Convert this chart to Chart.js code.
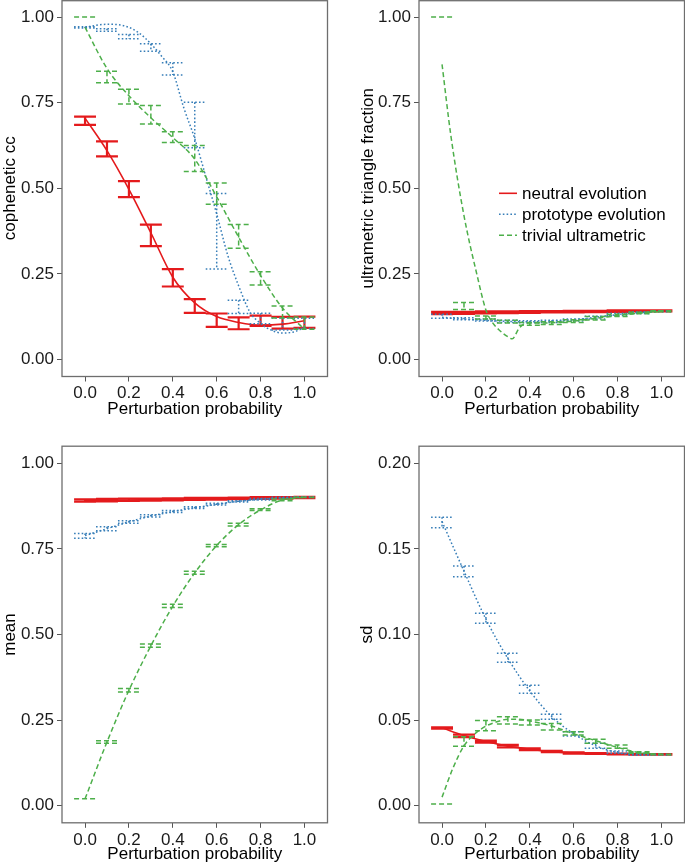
<!DOCTYPE html>
<html><head><meta charset="utf-8">
<script src="https://cdn.jsdelivr.net/npm/chart.js@4"></script>
<style>
html,body{margin:0;padding:0;background:#fff;width:685px;height:865px;overflow:hidden}
.p{position:absolute}
</style></head><body>
<div class="p" style="left:0;top:0;width:340px;height:420px"><canvas id="c1"></canvas></div>
<div class="p" style="left:340px;top:0;width:345px;height:420px"><canvas id="c2"></canvas></div>
<div class="p" style="left:0;top:420px;width:340px;height:445px"><canvas id="c3"></canvas></div>
<div class="p" style="left:340px;top:420px;width:345px;height:445px"><canvas id="c4"></canvas></div>
<script>
// ---------- shared axes ----------
const xBars = [0,0.1,0.2,0.3,0.4,0.5,0.6,0.7,0.8,0.9,1.0];
const xFit10 = [0,0.1,0.2,0.3,0.4,0.5,0.6,0.7,0.8,0.9,1.0];
const xFit05 = [0,0.05,0.1,0.15,0.2,0.25,0.3,0.35,0.4,0.45,0.5,0.55,0.6,0.65,0.7,0.75,0.8,0.85,0.9,0.95,1.0];
const xTicks = [0,0.2,0.4,0.6,0.8,1.0];
const yTicksUnit = [0,0.25,0.5,0.75,1.0];
const yTicksSd = [0,0.05,0.10,0.15,0.20];
const seriesNames = ["neutral evolution","prototype evolution","trivial ultrametric"];
const xTitle = "Perturbation probability";

// ---------- panel 1: cophenetic cc ----------
const cophNeutralLo = [0.685,0.593,0.474,0.331,0.213,0.136,0.095,0.088,0.098,0.090,0.092];
const cophNeutralHi = [0.709,0.637,0.521,0.394,0.264,0.176,0.134,0.123,0.128,0.124,0.125];
const cophNeutralFit = [0.705,0.610,0.497,0.370,0.240,0.165,0.125,0.108,0.100,0.103,0.113];
const cophProtoLo = [0.968,0.959,0.937,0.900,0.831,0.618,0.264,0.134,0.104,0.086,0.090];
const cophProtoHi = [0.972,0.966,0.949,0.922,0.867,0.751,0.485,0.173,0.135,0.121,0.120];
const cophProtoFit = [0.970,0.976,0.979,0.978,0.970,0.952,0.922,0.885,0.840,0.735,0.645,0.535,0.425,0.305,0.215,0.140,0.105,0.085,0.077,0.080,0.093];
const cophTrivLo = [1.000,0.808,0.746,0.688,0.634,0.549,0.453,0.325,0.217,0.121,0.088];
const cophTrivHi = [1.000,0.842,0.789,0.742,0.665,0.625,0.515,0.394,0.256,0.156,0.124];
const cophTrivFit = [0.970,0.850,0.770,0.706,0.648,0.585,0.475,0.357,0.245,0.150,0.088];

// ---------- panel 2: ultrametric triangle fraction ----------
const utfNeutralLo = [0.132,0.133,0.134,0.135,0.136,0.137,0.137,0.138,0.139,0.140,0.140];
const utfNeutralHi = [0.139,0.139,0.140,0.140,0.141,0.141,0.142,0.142,0.143,0.143,0.143];
const utfNeutralFit = [0.136,0.136,0.137,0.138,0.138,0.139,0.140,0.140,0.141,0.141,0.142];
const utfProtoLo = [0.120,0.116,0.112,0.108,0.107,0.108,0.112,0.118,0.128,0.134,0.139];
const utfProtoHi = [0.132,0.122,0.118,0.114,0.113,0.114,0.118,0.126,0.135,0.139,0.142];
const utfProtoFit = [0.123,0.118,0.114,0.111,0.110,0.112,0.116,0.123,0.131,0.137,0.141];
const utfTrivLo = [1.000,0.146,0.118,0.106,0.100,0.102,0.108,0.115,0.125,0.133,0.139];
const utfTrivHi = [1.000,0.166,0.127,0.114,0.108,0.110,0.116,0.125,0.132,0.138,0.142];
const utfTrivFitX = [0,0.04,0.1,0.16,0.2,0.225,0.26,0.3,0.32,0.35,0.38,0.4,0.5,0.6,0.7,0.8,0.9,1.0];
const utfTrivFitY = [0.862,0.655,0.420,0.245,0.144,0.112,0.086,0.066,0.060,0.090,0.105,0.106,0.107,0.112,0.120,0.128,0.135,0.140];

// ---------- panel 3: mean ----------
const meanNeutralLo = [0.888,0.889,0.890,0.891,0.892,0.893,0.894,0.895,0.896,0.897,0.898];
const meanNeutralHi = [0.895,0.896,0.897,0.897,0.898,0.899,0.899,0.900,0.901,0.901,0.902];
const meanNeutralFit = [0.891,0.892,0.893,0.894,0.895,0.896,0.897,0.898,0.899,0.900,0.900];
const meanProtoLo = [0.781,0.803,0.825,0.843,0.856,0.868,0.878,0.887,0.893,0.898,0.900];
const meanProtoHi = [0.795,0.815,0.832,0.850,0.862,0.873,0.883,0.891,0.897,0.901,0.902];
const meanProtoFit = [0.789,0.809,0.829,0.846,0.859,0.870,0.880,0.889,0.895,0.899,0.901];
const meanTrivLo = [0.020,0.182,0.332,0.463,0.579,0.676,0.756,0.817,0.862,0.891,0.900];
const meanTrivHi = [0.020,0.190,0.342,0.472,0.588,0.685,0.763,0.825,0.867,0.896,0.901];
const meanTrivFit = [0.020,0.186,0.337,0.467,0.583,0.680,0.760,0.821,0.864,0.893,0.901];

// ---------- panel 4: sd ----------
const sdNeutralLo = [0.0450,0.0400,0.0368,0.0341,0.0324,0.0312,0.0304,0.0302,0.0300,0.0298,0.0298];
const sdNeutralHi = [0.0458,0.0415,0.0380,0.0355,0.0335,0.0320,0.0312,0.0307,0.0304,0.0302,0.0301];
const sdNeutralFit = [0.0455,0.0410,0.0375,0.0348,0.0330,0.0316,0.0308,0.0304,0.0302,0.0300,0.0300];
const sdProtoLo = [0.1624,0.1338,0.1065,0.0838,0.0657,0.0505,0.0407,0.0335,0.0306,0.0296,0.0296];
const sdProtoHi = [0.1685,0.1400,0.1124,0.0890,0.0703,0.0534,0.0432,0.0364,0.0320,0.0306,0.0300];
const sdProtoFit = [0.166,0.137,0.109,0.086,0.067,0.052,0.042,0.035,0.031,0.0297,0.030];
const sdTrivLo = [0.001,0.0347,0.0438,0.0477,0.0471,0.0442,0.0413,0.0364,0.0335,0.0306,0.0298];
const sdTrivHi = [0.001,0.0403,0.0497,0.0520,0.0500,0.0480,0.0432,0.0388,0.0355,0.0315,0.0300];
const sdTrivFitX = [0,0.05,0.1,0.15,0.2,0.25,0.3,0.35,0.4,0.5,0.6,0.7,0.8,0.9,1.0];
const sdTrivFitY = [0.005,0.022,0.035,0.042,0.0465,0.049,0.0505,0.0505,0.0495,0.0465,0.042,0.038,0.034,0.031,0.030];

// ---------- styles ----------
const FONT = "'Liberation Sans', Arial, Helvetica, sans-serif";
const styles = [
  {color:'#E41A1C', dash:[], barW:2.2, fitW:1.6},
  {color:'#377EB8', dash:[1.6,2.2], barW:1.5, fitW:1.5},
  {color:'#4DAF4A', dash:[5,3], barW:1.5, fitW:1.5}
];
const HALF = 0.05;

function errorBarPoints(xs, lo, hi) {
  const pts = [];
  xs.forEach((x, i) => {
    pts.push({x: x - HALF, y: hi[i]}, {x: x + HALF, y: hi[i]}, {x: x, y: null});
    pts.push({x: x, y: hi[i]}, {x: x, y: lo[i]}, {x: x, y: null});
    pts.push({x: x - HALF, y: lo[i]}, {x: x + HALF, y: lo[i]}, {x: x, y: null});
  });
  return pts;
}
function fitPoints(xs, ys) { return xs.map((x, i) => ({x: x, y: ys[i]})); }

function buildDatasets(series) {
  const ds = [];
  series.forEach((s, k) => {
    const st = styles[k];
    ds.push({label: seriesNames[k] + ' bars', data: errorBarPoints(xBars, s.lo, s.hi),
      borderColor: st.color, borderDash: st.dash, borderWidth: st.barW, pointRadius: 0,
      spanGaps: false, tension: 0, order: 10 - k, fill: false});
    ds.push({label: seriesNames[k], data: fitPoints(s.fitX, s.fitY),
      borderColor: st.color, borderDash: st.dash, borderWidth: st.fitW, pointRadius: 0,
      cubicInterpolationMode: 'monotone', order: 10 - k, fill: false});
  });
  return ds;
}

const borderPlugin = {
  id: 'panelBorder',
  afterDatasetsDraw(chart) {
    const a = chart.chartArea, ctx = chart.ctx;
    ctx.save();
    ctx.strokeStyle = '#6e6e6e';
    ctx.lineWidth = 1.3;
    ctx.strokeRect(a.left, Math.max(a.top, 0.7), a.right - a.left, a.bottom - Math.max(a.top, 0.7));
    ctx.restore();
  }
};

const legendPlugin = {
  id: 'insetLegend',
  afterDraw(chart, args, opts) {
    if (!opts || !opts.show) return;
    const ctx = chart.ctx;
    ctx.save();
    ctx.font = '17px ' + FONT;
    ctx.textBaseline = 'middle';
    ctx.fillStyle = '#000';
    seriesNames.forEach((name, k) => {
      const y = opts.y0 + k * opts.dy;
      const st = styles[k];
      ctx.beginPath();
      ctx.setLineDash(st.dash);
      ctx.strokeStyle = st.color;
      ctx.lineWidth = 1.6;
      ctx.moveTo(opts.x0, y);
      ctx.lineTo(opts.x0 + opts.len, y);
      ctx.stroke();
      ctx.setLineDash([]);
      ctx.fillText(name, opts.x0 + opts.len + opts.gap, y + 1);
    });
    ctx.restore();
  }
};

function makePanel(id, geo, series, yMin, yMax, yTicks, yDigits, yTitle, legend) {
  const canvas = document.getElementById(id);
  return new Chart(canvas, {
    type: 'line',
    data: {datasets: buildDatasets(series)},
    plugins: [borderPlugin, legendPlugin],
    options: {
      responsive: true, maintainAspectRatio: false, animation: false, events: [],
      devicePixelRatio: 1,
      layout: {padding: {left: geo.padL, right: geo.w - geo.right, top: geo.top, bottom: 0}},
      plugins: {legend: {display: false}, tooltip: {enabled: false},
        insetLegend: legend || {show: false}},
      scales: {
        x: {
          type: 'linear', min: -0.105, max: 1.105,
          afterBuildTicks: s => { s.ticks = xTicks.map(v => ({value: v})); },
          afterFit: s => { s.height = geo.h - geo.bottom; s.paddingLeft = 0; s.paddingRight = 0; },
          ticks: {callback: v => Number(v).toFixed(1), color: '#1a1a1a', padding: 2,
            font: {size: 17, family: FONT}, maxRotation: 0, autoSkip: false},
          grid: {drawOnChartArea: false, drawTicks: true, tickLength: 5, color: '#555', lineWidth: 1},
          border: {display: false},
          title: {display: true, text: xTitle, color: '#000', padding: 0,
            font: {size: 17, family: FONT}}
        },
        y: {
          type: 'linear', min: yMin, max: yMax,
          afterBuildTicks: s => { s.ticks = yTicks.map(v => ({value: v})); },
          afterFit: s => { s.width = geo.left - geo.padL; s.paddingTop = 0; s.paddingBottom = 0; },
          ticks: {callback: v => Number(v).toFixed(yDigits), color: '#1a1a1a', padding: 3,
            font: {size: 17, family: FONT}, autoSkip: false},
          grid: {drawOnChartArea: false, drawTicks: true, tickLength: 5, color: '#555', lineWidth: 1},
          border: {display: false},
          title: {display: true, text: yTitle, color: '#000', padding: 0,
            font: {size: 17, family: FONT}}
        }
      }
    }
  });
}

const geo1 = {w: 340, h: 420, padL: 0, left: 62, right: 327.5, top: 0, bottom: 376.5};
const geo2 = {w: 345, h: 420, padL: 18, left: 79, right: 344.5, top: 0, bottom: 376.5};
const geo3 = {w: 340, h: 445, padL: 0, left: 62, right: 327.5, top: 26.2, bottom: 402.8};
const geo4 = {w: 345, h: 445, padL: 17, left: 79, right: 344.5, top: 26.2, bottom: 402.8};

makePanel('c1', geo1, [
  {lo: cophNeutralLo, hi: cophNeutralHi, fitX: xFit10, fitY: cophNeutralFit},
  {lo: cophProtoLo, hi: cophProtoHi, fitX: xFit05, fitY: cophProtoFit},
  {lo: cophTrivLo, hi: cophTrivHi, fitX: xFit10, fitY: cophTrivFit}
], -0.05, 1.05, yTicksUnit, 2, 'cophenetic cc');

makePanel('c2', geo2, [
  {lo: utfNeutralLo, hi: utfNeutralHi, fitX: xFit10, fitY: utfNeutralFit},
  {lo: utfProtoLo, hi: utfProtoHi, fitX: xFit10, fitY: utfProtoFit},
  {lo: utfTrivLo, hi: utfTrivHi, fitX: utfTrivFitX, fitY: utfTrivFitY}
], -0.05, 1.05, yTicksUnit, 2, 'ultrametric triangle fraction',
  {show: true, x0: 159, len: 18, gap: 5, y0: 193.3, dy: 21});

makePanel('c3', geo3, [
  {lo: meanNeutralLo, hi: meanNeutralHi, fitX: xFit10, fitY: meanNeutralFit},
  {lo: meanProtoLo, hi: meanProtoHi, fitX: xFit10, fitY: meanProtoFit},
  {lo: meanTrivLo, hi: meanTrivHi, fitX: xFit10, fitY: meanTrivFit}
], -0.05, 1.05, yTicksUnit, 2, 'mean');

makePanel('c4', geo4, [
  {lo: sdNeutralLo, hi: sdNeutralHi, fitX: xFit10, fitY: sdNeutralFit},
  {lo: sdProtoLo, hi: sdProtoHi, fitX: xFit10, fitY: sdProtoFit},
  {lo: sdTrivLo, hi: sdTrivHi, fitX: sdTrivFitX, fitY: sdTrivFitY}
], -0.01, 0.21, yTicksSd, 2, 'sd');
</script>
</body></html>
